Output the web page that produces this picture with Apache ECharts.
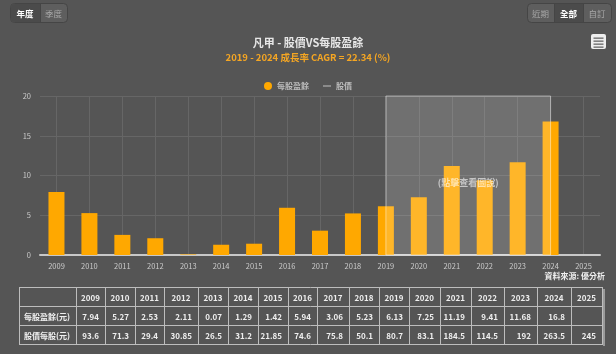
<!DOCTYPE html>
<html>
<head>
<meta charset="utf-8">
<script src="https://cdn.jsdelivr.net/npm/echarts@6/dist/echarts.min.js"></script>
<style>
html,body{margin:0;padding:0;background:#555555;}
#c{width:616px;height:354px;}
</style>
</head>
<body>
<div id="c"></div>
<script>
// ---- data ----
const years = ['2009','2010','2011','2012','2013','2014','2015','2016','2017','2018','2019','2020','2021','2022','2023','2024','2025'];
const eps = [7.94, 5.27, 2.53, 2.11, 0.07, 1.29, 1.42, 5.94, 3.06, 5.23, 6.13, 7.25, 11.19, 9.41, 11.68, 16.8, null];
const price = [93.6, 71.3, 29.4, 30.85, 26.5, 31.2, 21.85, 74.6, 75.8, 50.1, 80.7, 83.1, 184.5, 114.5, 192, 263.5, 245];
const rowLabels = ['每股盈餘(元)', '股價每股(元)'];
const yMin = 0, yMax = 20, yStep = 5;
const highlightFrom = '2019', highlightTo = '2024';
const titleText = '凡甲 - 股價VS每股盈餘';
const subText = '2019 - 2024 成長率 CAGR = 22.34 (%)';
const sourceText = '資料來源: 優分析';

// ---- layout (not data) ----
const FONT = '"Noto Sans CJK TC","Noto Sans",sans-serif';
const colEdges = [19, 76, 105, 135, 164, 198, 228, 258, 288, 317, 349, 379, 409, 440, 471, 504, 537, 571, 602];
const rowEdges = [287, 306, 325, 344];
const lineC = '#bdbdbd';

const chart = echarts.init(document.getElementById('c'), null, {renderer: 'canvas'});

function cellText(txt, x, y, align) {
  return {type: 'text', silent: true, z: 10, style: {text: txt, x: x, y: y, align: align, verticalAlign: 'middle',
    fill: '#eeeeee', font: 'bold 8px ' + FONT}};
}

const g = [];
for (let r = 0; r < rowEdges.length; r++) {
  g.push({type: 'line', silent: true, shape: {x1: colEdges[0], y1: rowEdges[r] + 0.5, x2: colEdges[colEdges.length - 1], y2: rowEdges[r] + 0.5}, style: {stroke: lineC, lineWidth: 1}});
}
for (let c = 0; c < colEdges.length; c++) {
  g.push({type: 'line', silent: true, shape: {x1: colEdges[c] + 0.5, y1: rowEdges[0], x2: colEdges[c] + 0.5, y2: rowEdges[rowEdges.length - 1] + 1}, style: {stroke: lineC, lineWidth: 1}});
}
g.push({type: 'rect', silent: true, shape: {x: colEdges[colEdges.length - 1] + 1, y: rowEdges[0] + 2, width: 2, height: rowEdges[3] - rowEdges[0]}, style: {fill: '#9a9a9a'}});
years.forEach((y, i) => {
  const cx = (colEdges[i + 1] + colEdges[i + 2]) / 2;
  g.push(cellText(y, cx, (rowEdges[0] + rowEdges[1]) / 2 + 1, 'center'));
});
const rows = [eps, price];
rows.forEach((arr, r) => {
  const cy = (rowEdges[r + 1] + rowEdges[r + 2]) / 2 + 1;
  g.push(cellText(rowLabels[r], colEdges[0] + 5, cy, 'left'));
  arr.forEach((v, i) => {
    if (v === null || v === undefined) return;
    g.push(cellText(String(v), colEdges[i + 2] - 6, cy, 'right'));
  });
});
g.push({type: 'text', silent: true, style: {text: sourceText, x: 605, y: 276, align: 'right', verticalAlign: 'middle', fill: '#eeeeee', font: 'bold 8px ' + FONT}});

function btnGroup(x0, labels, edges, selIdx) {
  const els = [];
  const x1 = edges[edges.length - 1];
  els.push({type: 'rect', silent: true, shape: {x: x0 + 0.5, y: 3.5, width: x1 - x0, height: 19, r: 4}, style: {fill: '#5e5e5e', stroke: '#454545', lineWidth: 1}});
  const segEdges = [x0].concat(edges);
  labels.forEach((t, i) => {
    const a = segEdges[i], b = segEdges[i + 1];
    if (i === selIdx) {
      els.push({type: 'rect', silent: true, shape: {x: a + 1, y: 4, width: b - a - 1, height: 18, r: i === 0 ? [4, 0, 0, 4] : 0}, style: {fill: '#4b4b4b'}});
    }
    if (i > 0) els.push({type: 'line', silent: true, shape: {x1: a + 0.5, y1: 4, x2: a + 0.5, y2: 22}, style: {stroke: '#454545', lineWidth: 1}});
    els.push({type: 'text', silent: true, style: {text: t, x: (a + b) / 2, y: 13.5, align: 'center', verticalAlign: 'middle', fill: i === selIdx ? '#ffffff' : '#a8a8a8', font: (i === selIdx ? 'bold ' : '') + '8.5px ' + FONT}});
  });
  return els;
}
btnGroup(10, ['年度', '季度'], [40, 67], 0).forEach(e => g.push(e));
btnGroup(527, ['近期', '全部', '自訂'], [554, 583, 611], 1).forEach(e => g.push(e));
g.push({type: 'rect', silent: true, shape: {x: 591, y: 34, width: 15, height: 15, r: 2}, style: {fill: '#eeeeee'}});
[38, 41, 44, 47].forEach(yy => g.push({type: 'rect', silent: true, z: 11, shape: {x: 593.5, y: yy - 0.5, width: 10, height: 1.3}, style: {fill: '#666666'}}));

const option = {
  backgroundColor: '#555555',
  animation: false,
  title: {
    text: titleText, subtext: subText, left: 'center', top: 32, itemGap: 5,
    textStyle: {color: '#e6e6e6', fontSize: 11, fontWeight: 'bold', fontFamily: FONT},
    subtextStyle: {color: '#f5a623', fontSize: 9.5, fontWeight: 'bold', fontFamily: FONT}
  },
  legend: {
    top: 77, left: 'center', itemWidth: 8, itemHeight: 8, itemGap: 14,
    textStyle: {color: '#bbbbbb', fontSize: 8, fontFamily: FONT, fontWeight: 'bold'},
    inactiveColor: '#bbbbbb',
    data: [{name: '每股盈餘', icon: 'circle'}, {name: '股價', icon: 'path://M0,5 L12,5 L12,6.6 L0,6.6 Z'}],
    selected: {'每股盈餘': true, '股價': false}
  },
  grid: {left: 40, right: 16, top: 96, bottom: 99, containLabel: false},
  xAxis: {
    type: 'category', data: years, boundaryGap: true,
    axisLine: {show: true, lineStyle: {color: '#c8c8c8', width: 2}},
    axisTick: {show: false},
    axisLabel: {color: '#cccccc', fontSize: 7.5, margin: 7, fontFamily: FONT},
    splitLine: {show: false}
  },
  yAxis: [{
    type: 'value', min: yMin, max: yMax, interval: yStep,
    axisLine: {show: false}, axisTick: {show: false},
    axisLabel: {color: '#cccccc', fontSize: 7.5, margin: 9, fontFamily: FONT},
    splitLine: {lineStyle: {color: '#666666', width: 1}}
  }, {
    type: 'value', show: false
  }],
  series: [
    {
      name: '_vgrid', type: 'line', data: [], z: 0, zlevel: 0, silent: true,
      markLine: {
        silent: true, z: 0, symbol: ['none', 'none'], label: {show: false},
        lineStyle: {color: '#666666', width: 1, type: 'solid'},
        data: years.map(y => ({xAxis: y}))
      }
    },
    {
      name: '每股盈餘', type: 'bar', data: eps, barWidth: 16, z: 3,
      itemStyle: {color: '#FFA800'}
    },
    {
      name: '股價', type: 'line', data: price, yAxisIndex: 1, symbol: 'none',
      lineStyle: {color: '#dddddd', width: 2}, itemStyle: {color: '#dddddd'}
    },
    {
      name: '_hl', type: 'line', data: [], z: 5, silent: true,
      markArea: {
        silent: true, z: 6,
        itemStyle: {color: 'rgba(255,255,255,0.16)', borderColor: 'rgba(255,255,255,0.45)', borderWidth: 1},
        label: {show: true, position: 'inside', offset: [0, 7], color: 'rgba(255,255,255,0.6)', fontSize: 9, fontWeight: 'bold', fontFamily: FONT},
        data: [[{name: '(點擊查看圖說)', xAxis: highlightFrom}, {xAxis: highlightTo}]]
      }
    }
  ],
  graphic: g
};
chart.setOption(option);
</script>
</body>
</html>
